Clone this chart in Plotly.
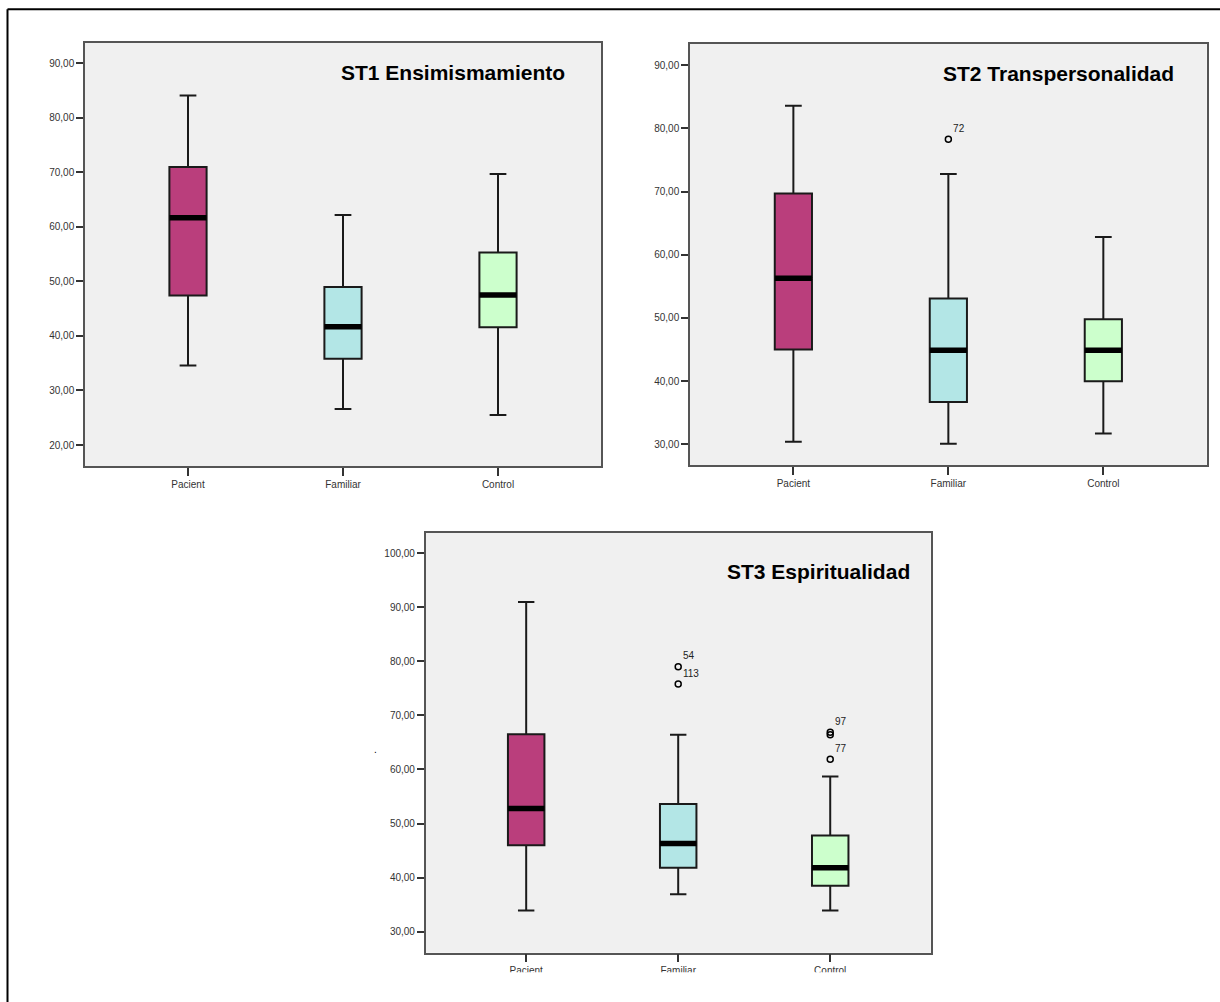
import plotly.graph_objects as go

W, H = 1220, 1002

categories = ["Pacient", "Familiar", "Control"]
box_colors = ["#BA3E7C", "#B3E6E6", "#CCFFCC"]

# ST1 Ensimismamiento
st1_lower = [34.6, 26.6, 25.5]
st1_q1 = [47.4, 35.8, 41.6]
st1_median = [61.7, 41.7, 47.5]
st1_q3 = [71.0, 49.0, 55.3]
st1_upper = [84.1, 62.2, 69.7]
st1_out_group = []
st1_out_values = []
st1_out_labels = []
st1_ticks = [20, 30, 40, 50, 60, 70, 80, 90]

# ST2 Transpersonalidad
st2_lower = [30.4, 30.1, 31.7]
st2_q1 = [45.0, 36.7, 40.0]
st2_median = [56.3, 44.9, 44.9]
st2_q3 = [69.7, 53.1, 49.8]
st2_upper = [83.6, 72.8, 62.8]
st2_out_group = [1]
st2_out_values = [78.3]
st2_out_labels = ["72"]
st2_ticks = [30, 40, 50, 60, 70, 80, 90]

# ST3 Espiritualidad
st3_lower = [33.9, 36.9, 33.9]
st3_q1 = [46.0, 41.8, 38.5]
st3_median = [52.8, 46.3, 41.8]
st3_q3 = [66.5, 53.6, 47.8]
st3_upper = [91.0, 66.4, 58.7]
st3_out_group = [1, 1, 2, 2, 2]
st3_out_values = [79.0, 75.8, 66.9, 66.4, 61.9]
st3_out_labels = ["54", "113", "97", "", "77"]
st3_ticks = [30, 40, 50, 60, 70, 80, 90, 100]

titles = ["ST1 Ensimismamiento", "ST2 Transpersonalidad", "ST3 Espiritualidad"]

# panel geometry in pixels (left, right, top, bottom)
panels = [
    dict(px=(85, 601, 42.7, 466), xr=[-0.6645, 2.6645], yr=[16.15, 93.78], title_x=567.4, title_y=72.5,
         data=(st1_lower, st1_q1, st1_median, st1_q3, st1_upper), out=(st1_out_group, st1_out_values, st1_out_labels),
         ticks=st1_ticks),
    dict(px=(690, 1206.7, 44, 465.3), xr=[-0.667, 2.667], yr=[26.68, 93.37], title_x=1176.1, title_y=73.5,
         data=(st2_lower, st2_q1, st2_median, st2_q3, st2_upper), out=(st2_out_group, st2_out_values, st2_out_labels),
         ticks=st2_ticks),
    dict(px=(425.7, 930.7, 532.7, 952.7), xr=[-0.661, 2.661], yr=[26.1, 103.8], title_x=911.5, title_y=571.5,
         data=(st3_lower, st3_q1, st3_median, st3_q3, st3_upper), out=(st3_out_group, st3_out_values, st3_out_labels),
         ticks=st3_ticks),
]

BOX_W = 0.24
fig = go.Figure()
annotations = []
layout = {}
font_family = "Liberation Sans, Arial, sans-serif"

for p_i, p in enumerate(panels):
    k = "" if p_i == 0 else str(p_i + 1)
    xa, ya = "x" + k, "y" + k
    lower, q1, med, q3, upper = p["data"]
    for i, cat in enumerate(categories):
        fig.add_trace(go.Box(
            x=[i], q1=[q1[i]], median=[med[i]], q3=[q3[i]],
            lowerfence=[lower[i]], upperfence=[upper[i]],
            width=BOX_W, whiskerwidth=0.45, boxpoints=False,
            fillcolor=box_colors[i], line=dict(color="#1a1a1a", width=2),
            xaxis=xa, yaxis=ya, hoverinfo="skip", name=cat,
        ))
        fig.add_trace(go.Scatter(
            x=[i - BOX_W / 2, i + BOX_W / 2], y=[med[i], med[i]], mode="lines",
            line=dict(color="black", width=5.5), xaxis=xa, yaxis=ya, hoverinfo="skip",
        ))
    og, ov, ol = p["out"]
    if og:
        fig.add_trace(go.Scatter(
            x=og, y=ov, mode="markers+text", text=ol, textposition="top right",
            textfont=dict(size=10, color="#222", family=font_family),
            marker=dict(symbol="circle-open", size=6, color="black", line=dict(width=1.5, color="black")),
            xaxis=xa, yaxis=ya, hoverinfo="skip",
        ))
    l, r, t, b = p["px"]
    layout["xaxis" + k] = dict(
        domain=[l / W, r / W], range=p["xr"], anchor=ya, tickmode="array",
        tickvals=[0, 1, 2], ticktext=categories, ticks="outside", ticklen=8, tickwidth=1.5,
        tickcolor="#333", showline=True, mirror=True, linecolor="#555", linewidth=1.5,
        showgrid=False, zeroline=False, automargin=False,
        tickfont=dict(size=10, color="#333", family=font_family),
    )
    layout["yaxis" + k] = dict(
        domain=[1 - b / H, 1 - t / H], range=p["yr"], anchor=xa, tickmode="array",
        tickvals=p["ticks"], ticktext=[f"{v},00" for v in p["ticks"]],
        ticks="outside", ticklen=7, tickwidth=1.5, tickcolor="#333",
        showline=True, mirror=True, linecolor="#555", linewidth=1.5,
        showgrid=False, zeroline=False, automargin=False,
        tickfont=dict(size=10, color="#333", family=font_family),
    )
    annotations.append(dict(
        text="<b>" + titles[p_i] + "</b>", xref="paper", yref="paper",
        x=p["title_x"] / W, y=1 - p["title_y"] / H, xanchor="right", yanchor="middle",
        showarrow=False, font=dict(size=21, color="black", family=font_family),
    ))

annotations.append(dict(
    text=".", xref="paper", yref="paper", x=375.8 / W, y=1 - 749.5 / H,
    xanchor="center", yanchor="middle", showarrow=False,
    font=dict(size=10, color="black", family=font_family),
))

shapes = [
    # outer frame (top and left visible)
    dict(type="line", xref="paper", yref="paper", x0=7.5 / W, x1=1.01, y0=1 - 9.3 / H, y1=1 - 9.3 / H,
         line=dict(color="black", width=2), layer="above"),
    dict(type="line", xref="paper", yref="paper", x0=7.5 / W, x1=7.5 / W, y0=-0.01, y1=1 - 9.3 / H,
         line=dict(color="black", width=2), layer="above"),
    # clipping of bottom panel's category labels
    dict(type="rect", xref="paper", yref="paper", x0=400 / W, x1=960 / W, y0=-0.01, y1=1 - 972.3 / H,
         fillcolor="white", line=dict(width=0), layer="above"),
]

fig.update_layout(
    width=W, height=H, margin=dict(l=0, r=0, t=0, b=0),
    paper_bgcolor="white", plot_bgcolor="#F0F0F0", showlegend=False, hovermode=False,
    annotations=annotations, shapes=shapes, **layout,
)

fig.write_html("out.html", config={"displayModeBar": False},
               post_script="document.body.style.margin='0px';")
